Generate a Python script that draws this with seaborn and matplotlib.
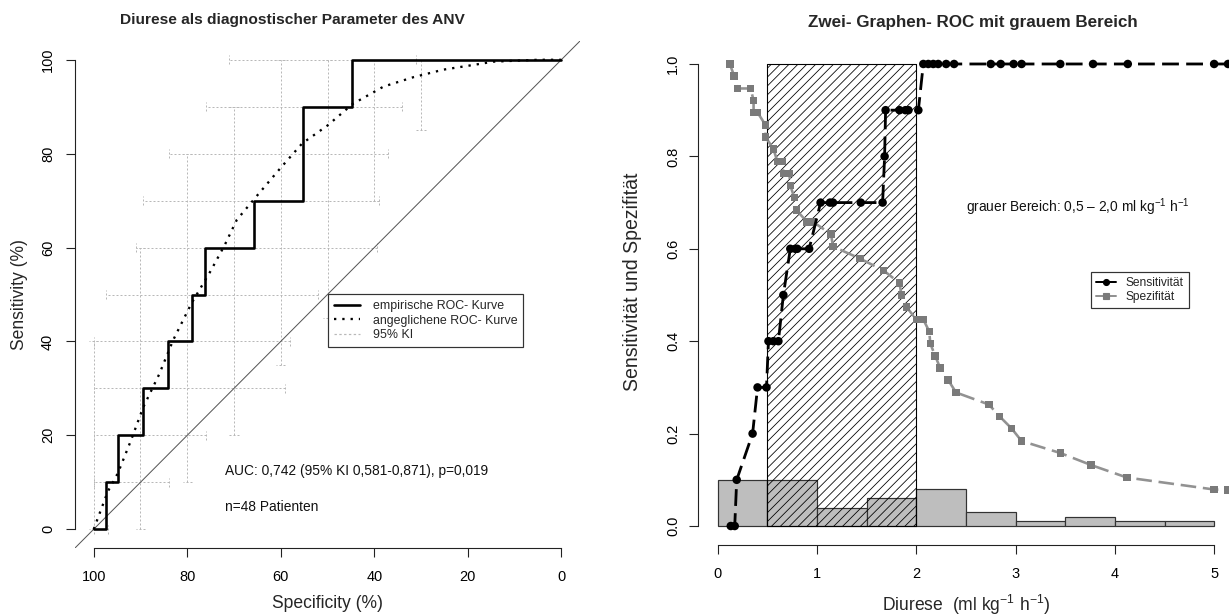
import numpy as np
import pandas as pd
import matplotlib
matplotlib.use("Agg")
import matplotlib.pyplot as plt
import seaborn as sns
from matplotlib.lines import Line2D

# ---------------- data: left panel (ROC) ----------------
emp_spec = [100, 97.4, 94.7, 89.5, 84.2, 78.9, 76.3, 65.8, 55.3, 44.7, 0]
emp_sens = [0, 10, 20, 30, 40, 50, 60, 70, 90, 100, 100]
fit_spec = [100, 98.5, 97, 94.8, 92, 89.4, 86, 83, 79.1, 75, 72, 69.4, 65.2, 60,
            55.4, 50, 44.6, 38, 31.6, 25.2, 18.8, 14.5, 5, 0]
fit_sens = [0, 4, 8, 12, 19, 26, 33, 40.3, 48.1, 55, 60.5, 65.9, 70.9, 77,
            82.2, 86, 90.6, 94.3, 96.3, 97.9, 98.9, 99.6, 100, 100]
ci_se_at_spec = [100, 90, 80, 70, 60, 50, 40, 30]
ci_se_lo = [0, 0, 10, 20, 35, 45, 70, 85]
ci_se_hi = [40, 60, 80, 90, 100, 100, 100, 100]
ci_sp_at_sens = [0, 10, 20, 30, 40, 50, 60, 70, 80, 90, 100]
ci_sp_hi = [100, 100, 100, 100, 100, 97.4, 91, 89.5, 84, 76, 71]
ci_sp_lo = [97, 84, 76, 59, 58, 52, 39.5, 39, 37, 34, 31]
left_ticks = [0, 20, 40, 60, 80, 100]
auc_text = "AUC: 0,742 (95% KI 0,581-0,871), p=0,019"
n_text = "n=48 Patienten"
legend_left = ["empirische ROC- Kurve", "angeglichene ROC- Kurve", "95% KI"]

# ---------------- data: right panel ----------------
hist_edges = [0, 0.5, 1.0, 1.5, 2.0, 2.5, 3.0, 3.5, 4.0, 4.5, 5.0]
hist_heights = [0.10, 0.10, 0.04, 0.06, 0.08, 0.03, 0.01, 0.02, 0.01, 0.01]
grey_lo, grey_hi, grey_top = 0.5, 2.0, 1.0
sens_x = [0.13, 0.17, 0.19, 0.35, 0.40, 0.49, 0.51, 0.56, 0.61, 0.66, 0.73, 0.78,
          0.80, 0.92, 1.035, 1.13, 1.16, 1.44, 1.66, 1.68, 1.69, 1.83, 1.89, 1.92,
          2.02, 2.07, 2.12, 2.17, 2.22, 2.30, 2.38, 2.75, 2.85, 2.98, 3.06, 3.45,
          3.78, 4.13, 5.00, 5.14]
sens_y = [0, 0, 0.1, 0.2, 0.3, 0.3, 0.4, 0.4, 0.4, 0.5, 0.6, 0.6,
          0.6, 0.6, 0.7, 0.7, 0.7, 0.7, 0.7, 0.8, 0.9, 0.9, 0.9, 0.9,
          0.9, 1, 1, 1, 1, 1, 1, 1, 1, 1, 1, 1,
          1, 1, 1, 1]
spec_x = [0.12, 0.165, 0.20, 0.33, 0.36, 0.36, 0.40, 0.48, 0.48, 0.56, 0.60, 0.65,
          0.66, 0.72, 0.73, 0.77, 0.79, 0.90, 0.96, 1.14, 1.16, 1.43, 1.67, 1.83,
          1.85, 1.90, 2.00, 2.07, 2.13, 2.14, 2.19, 2.24, 2.32, 2.40, 2.73, 2.84,
          2.96, 3.06, 3.45, 3.76, 4.12, 5.00, 5.14]
spec_y = [1.000, 0.974, 0.947, 0.947, 0.921, 0.895, 0.895, 0.868, 0.842, 0.816, 0.789, 0.789,
          0.763, 0.763, 0.737, 0.711, 0.684, 0.658, 0.658, 0.632, 0.605, 0.579, 0.553, 0.526,
          0.500, 0.474, 0.447, 0.447, 0.421, 0.395, 0.368, 0.342, 0.316, 0.289, 0.263, 0.237,
          0.211, 0.184, 0.158, 0.132, 0.105, 0.079, 0.078]
right_xticks = [0, 1, 2, 3, 4, 5]
right_yticks = [0.0, 0.2, 0.4, 0.6, 0.8, 1.0]
grey_text = r"grauer Bereich: 0,5 – 2,0 ml kg$^{-1}$ h$^{-1}$"
legend_right = ["Sensitivität", "Spezifität"]

# ---------------- style ----------------
sns.set_theme(style="white")
plt.rcParams["font.family"] = ["Liberation Sans", "DejaVu Sans"]
plt.rcParams["mathtext.fontset"] = "custom"
plt.rcParams["mathtext.rm"] = "Liberation Sans"
plt.rcParams["mathtext.it"] = "Liberation Sans:italic"
plt.rcParams["mathtext.bf"] = "Liberation Sans:bold"
plt.rcParams["hatch.color"] = "black"

DPI = 80
W, H = 1229, 616
def pt(px):
    return px * 72.0 / DPI
plt.rcParams["hatch.linewidth"] = pt(0.8)

fig = plt.figure(figsize=(W / DPI, H / DPI), dpi=DPI)
fig.patch.set_facecolor("white")

def style_axes(ax, xb, yb, xpad, ypad):
    for s in ["top", "right"]:
        ax.spines[s].set_visible(False)
    for s in ["left", "bottom"]:
        ax.spines[s].set_color("#222222")
        ax.spines[s].set_linewidth(pt(1.1))
    ax.spines["bottom"].set_bounds(*xb)
    ax.spines["left"].set_bounds(*yb)
    ax.tick_params(axis="both", which="both", direction="out", length=pt(9),
                   width=pt(1.1), color="#222222", labelsize=pt(14.5),
                   left=True, bottom=True, labelcolor="black")
    ax.tick_params(axis="x", pad=pt(xpad))
    ax.tick_params(axis="y", pad=pt(ypad))
    for lab in ax.get_yticklabels():
        lab.set_rotation(90)
        lab.set_va("center")
    ax.set_facecolor("none")
    ax.grid(False)

# ================= LEFT PANEL =================
ax1 = fig.add_axes([75 / W, 1 - 548 / H, 505 / W, 507 / H])
ci_col = "#b8b8b8"
ci_ls = (0, (2, 2))
cap = 1.0
ax1.vlines(ci_se_at_spec, ci_se_lo, ci_se_hi, colors=ci_col, linestyles=ci_ls, lw=pt(1))
for xs, lo, hi in zip(ci_se_at_spec, ci_se_lo, ci_se_hi):
    ax1.hlines([lo, hi], xs - cap, xs + cap, colors=ci_col, linestyles=ci_ls, lw=pt(1))
ax1.hlines(ci_sp_at_sens, ci_sp_lo, ci_sp_hi, colors=ci_col, linestyles=ci_ls, lw=pt(1))
for ys, lo, hi in zip(ci_sp_at_sens, ci_sp_lo, ci_sp_hi):
    ax1.vlines([lo, hi], ys - cap, ys + cap, colors=ci_col, linestyles=ci_ls, lw=pt(1))

ax1.axline((100, 0), (0, 100), color="#555555", lw=pt(1.0))

sns.lineplot(x=emp_spec, y=emp_sens, sort=False, estimator=None, ax=ax1,
             color="black", lw=pt(2.6), drawstyle="steps-post")
sns.lineplot(x=fit_spec, y=fit_sens, sort=False, estimator=None, ax=ax1,
             color="black", lw=pt(2.3), linestyle=(0, (1, 2.6)))

ax1.set_xlim(104, -4)
ax1.set_ylim(-4, 104)
ax1.set_xticks(left_ticks)
ax1.set_yticks(left_ticks)
ax1.set_xticklabels([str(t) for t in left_ticks])
ax1.set_yticklabels([str(t) for t in left_ticks])
ax1.set_xlabel("")
ax1.set_ylabel("")
style_axes(ax1, (0, 100), (0, 100), 13, 11)

ax1.text(72, 12.4, auc_text, ha="left", va="center", fontsize=pt(13.7), color="#111111")
ax1.text(72, 4.7, n_text, ha="left", va="center", fontsize=pt(13.7), color="#111111")

h_left = [Line2D([], [], color="black", lw=pt(2.6)),
          Line2D([], [], color="black", lw=pt(2.3), linestyle=(0, (1, 2.6))),
          Line2D([], [], color=ci_col, lw=pt(1.2), linestyle=(0, (2, 2)))]
leg1 = ax1.legend(h_left, legend_left, loc="upper left",
                  bbox_to_anchor=(328 / W, 1 - 294 / H), bbox_transform=fig.transFigure,
                  frameon=True, fancybox=False, edgecolor="#333333", framealpha=1,
                  fontsize=pt(12.4), handlelength=2.1, handletextpad=1.0,
                  borderpad=0.5, labelspacing=0.2, borderaxespad=0)
leg1.get_frame().set_linewidth(pt(1.2))
leg1.set_zorder(10)

fig.text(292 / W, 1 - 20 / H, "Diurese als diagnostischer Parameter des ANV",
         ha="center", va="center", fontsize=pt(15.5), fontweight="bold")
fig.text(20 / W, 1 - 294 / H, "Sensitivity (%)", rotation=90, ha="center",
         va="center", fontsize=pt(17.5))
fig.text(327 / W, 1 - 603 / H, "Specificity (%)", ha="center", va="center",
         fontsize=pt(17.5))

# ================= RIGHT PANEL =================
ax2 = fig.add_axes([698 / W, 1 - 544.5 / H, 536 / W, 499 / H])
hist_mids = [(a + b) / 2 for a, b in zip(hist_edges[:-1], hist_edges[1:])]
sns.histplot(x=hist_mids, weights=hist_heights, bins=hist_edges, ax=ax2,
             color="#bebebe", edgecolor="#333333", linewidth=pt(1.2), alpha=1,
             stat="count", zorder=1)
ax2.fill_between([grey_lo, grey_hi], 0, grey_top, facecolor="none",
                 edgecolor="black", hatch="///", lw=pt(1.1), zorder=2)

sns.lineplot(x=spec_x, y=spec_y, sort=False, estimator=None, ax=ax2,
             color="#929292", lw=pt(2.6), linestyle=(0, (6, 2.6)), zorder=3)
sns.scatterplot(x=spec_x, y=spec_y, ax=ax2, marker="s", s=pt(7.5) ** 2,
                color="#7a7a7a", edgecolor="none", linewidth=0, zorder=4)
sns.lineplot(x=sens_x, y=sens_y, sort=False, estimator=None, ax=ax2,
             color="black", lw=pt(2.8), linestyle=(0, (6, 2.6)), zorder=5)
sns.scatterplot(x=sens_x, y=sens_y, ax=ax2, marker="o", s=pt(8.5) ** 2,
                color="black", edgecolor="none", linewidth=0, zorder=6)

ax2.set_xlim(-0.2, 5.2)
ax2.set_ylim(-0.04, 1.04)
ax2.set_xticks(right_xticks)
ax2.set_yticks(right_yticks)
ax2.set_xticklabels([str(t) for t in right_xticks])
ax2.set_yticklabels([f"{t:.1f}" for t in right_yticks])
ax2.set_xlabel("")
ax2.set_ylabel("")
style_axes(ax2, (0, 5), (0, 1), 13, 9)

ax2.text(2.5, 0.69, grey_text, ha="left", va="center", fontsize=pt(13.7), color="#111111")

h_right = [Line2D([], [], color="black", lw=pt(2), marker="o", markersize=pt(6)),
           Line2D([], [], color="#929292", lw=pt(2), marker="s", markersize=pt(5.5),
                  markerfacecolor="#7a7a7a", markeredgecolor="#7a7a7a")]
leg2 = ax2.legend(h_right, legend_right, loc="upper left",
                  bbox_to_anchor=(1091 / W, 1 - 272 / H), bbox_transform=fig.transFigure,
                  frameon=True, fancybox=False, edgecolor="#333333", framealpha=1,
                  fontsize=pt(12), handlelength=1.7, handletextpad=0.8,
                  borderpad=0.4, labelspacing=0.2, borderaxespad=0)
leg2.get_frame().set_linewidth(pt(1.2))
leg2.set_zorder(10)

fig.text(973 / W, 1 - 22 / H, "Zwei- Graphen- ROC mit grauem Bereich",
         ha="center", va="center", fontsize=pt(17), fontweight="bold")
fig.text(632 / W, 1 - 282 / H, "Sensitivität und Spezifität", rotation=90,
         ha="center", va="center", fontsize=pt(19.5))
fig.text(966 / W, 1 - 605 / H, r"Diurese  (ml kg$^{-1}$ h$^{-1}$)", ha="center",
         va="center", fontsize=pt(17.5))

fig.savefig("out.png", dpi=DPI, facecolor="white")
